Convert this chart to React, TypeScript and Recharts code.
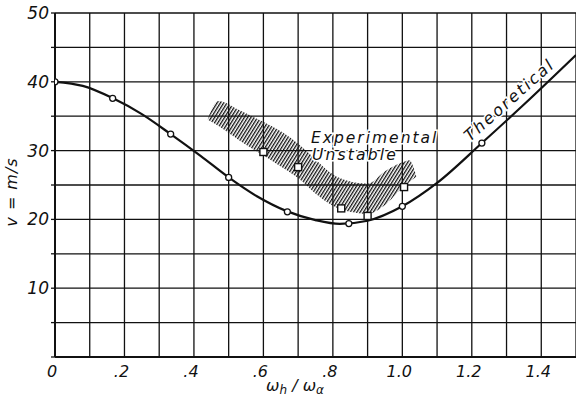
import React from 'react';
import {
  ComposedChart,
  Line,
  Area,
  Scatter,
  XAxis,
  YAxis,
  CartesianGrid,
} from 'recharts';

// theoretical curve
const curveX = [0, 0.08, 0.167, 0.25, 0.333, 0.42, 0.5, 0.58, 0.667, 0.75, 0.82, 0.9, 1.0, 1.1, 1.229, 1.35, 1.5];
const curveV = [40.0, 39.4, 37.6, 35.3, 32.4, 29.2, 26.1, 23.4, 21.2, 19.9, 19.35, 19.8, 21.9, 25.3, 31.1, 36.7, 43.9];

// computed points (open circles)
const circleX = [0, 0.166, 0.333, 0.5, 0.669, 0.846, 1.0, 1.229];
const circleV = [40, 37.6, 32.4, 26.1, 21.1, 19.4, 21.9, 31.1];

// experimental points (open squares)
const squareX = [0.6, 0.7, 0.824, 0.9, 1.005];
const squareV = [29.8, 27.6, 21.6, 20.5, 24.7];

// hatched "experimental unstable" band
const bandX = [0.44, 0.47, 0.53, 0.59, 0.65, 0.7, 0.74, 0.78, 0.82, 0.85, 0.9, 0.95, 1.0, 1.02, 1.04];
const bandLow = [34.5, 33.6, 31.5, 29.6, 27.7, 26.0, 24.2, 22.6, 21.5, 21.1, 20.8, 22.1, 24.6, 25.4, 26.2];
const bandHigh = [34.6, 37.2, 35.9, 34.4, 32.8, 31.0, 29.2, 27.3, 26.0, 25.5, 25.2, 27.0, 28.3, 28.6, 26.3];

const xTicks = [0, 0.1, 0.2, 0.3, 0.4, 0.5, 0.6, 0.7, 0.8, 0.9, 1.0, 1.1, 1.2, 1.3, 1.4, 1.5];
const xLabels: Record<string, string> = {
  '0': '0', '0.2': '.2', '0.4': '.4', '0.6': '.6', '0.8': '.8', '1': '1.0', '1.2': '1.2', '1.4': '1.4',
};
const yTicks = [0, 5, 10, 15, 20, 25, 30, 35, 40, 45, 50];
const yLabels = [10, 20, 30, 40, 50];

const curve = curveX.map((x, i) => ({ x, v: curveV[i] }));
const circles = circleX.map((x, i) => ({ x, v: circleV[i] }));
const squares = squareX.map((x, i) => ({ x, v: squareV[i] }));
const band = bandX.map((x, i) => ({ x, range: [bandLow[i], bandHigh[i]] }));

const FONT = '"DejaVu Sans", sans-serif';

const XTick = (props: any) => {
  const { x, y, payload } = props;
  const key = String(Math.round(payload.value * 10) / 10);
  const label = xLabels[key];
  if (!label) return null;
  return (
    <text x={x - 3} y={y + 20} textAnchor="middle" fontFamily={FONT} fontStyle="italic" fontSize={16} fill="#111">
      {label}
    </text>
  );
};

const YTick = (props: any) => {
  const { x, y, payload } = props;
  if (!yLabels.includes(payload.value)) return null;
  return (
    <text x={x} y={y + 6} textAnchor="end" fontFamily={FONT} fontStyle="italic" fontSize={17} fill="#111">
      {payload.value}
    </text>
  );
};

const OpenCircle = (props: any) => (
  <circle cx={props.cx} cy={props.cy} r={3} fill="#fff" stroke="#111" strokeWidth={1.3} />
);

const OpenSquare = (props: any) => (
  <rect x={props.cx - 3.5} y={props.cy - 3.5} width={7} height={7} fill="#fff" stroke="#111" strokeWidth={1.4} />
);

const txt = {
  fontFamily: FONT,
  fontStyle: 'italic' as const,
  fill: '#111',
  stroke: '#fff',
  strokeWidth: 3,
  paintOrder: 'stroke' as const,
};

export default function App() {
  return (
    <div style={{ position: 'absolute', left: 0, top: 0, width: 576, height: 400, background: '#fff' }}>
      <ComposedChart width={576} height={400} margin={{ top: 13, right: 0, left: 0, bottom: 0 }}>
        <defs>
          <pattern id="hatch" width="2.8" height="6" patternUnits="userSpaceOnUse" patternTransform="rotate(32)">
            <rect x="0" y="0" width="1.3" height="6" fill="#111" />
          </pattern>
        </defs>
        <CartesianGrid stroke="#111" strokeWidth={1.3} />
        <XAxis
          type="number"
          dataKey="x"
          domain={[0, 1.5]}
          ticks={xTicks}
          interval={0}
          height={43}
          tickLine={false}
          tickSize={0}
          tickMargin={0}
          axisLine={{ stroke: '#111', strokeWidth: 2 }}
          tick={<XTick />}
          allowDataOverflow
        />
        <YAxis
          type="number"
          dataKey="v"
          domain={[0, 50]}
          ticks={yTicks}
          interval={0}
          width={55}
          tickSize={4}
          tickMargin={2}
          tickLine={{ stroke: '#111', strokeWidth: 1.3 }}
          axisLine={{ stroke: '#111', strokeWidth: 2 }}
          tick={<YTick />}
        />
        <Area
          data={band}
          dataKey="range"
          type="monotone"
          stroke="none"
          fill="url(#hatch)"
          fillOpacity={1}
          isAnimationActive={false}
        />
        <Line
          data={curve}
          dataKey="v"
          type="monotone"
          stroke="#111"
          strokeWidth={2.2}
          dot={false}
          activeDot={false}
          isAnimationActive={false}
        />
        <Scatter data={circles} dataKey="v" shape={<OpenCircle />} isAnimationActive={false} />
        <Scatter data={squares} dataKey="v" shape={<OpenSquare />} isAnimationActive={false} />
      </ComposedChart>
      <svg width={576} height={400} style={{ position: 'absolute', left: 0, top: 0, pointerEvents: 'none' }}>
        <text x={311} y={143} fontSize={15.5} letterSpacing={2} {...txt}>Experimental</text>
        <text x={312} y={160} fontSize={15.5} letterSpacing={2.2} {...txt}>Unstable</text>
        <text x={470} y={142} fontSize={16} letterSpacing={2.3} transform="rotate(-41.5 470 142)" {...txt}>
          Theoretical
        </text>
        <text x={17} y={192} fontSize={16} letterSpacing={1} textAnchor="middle" transform="rotate(-90 17 192)" {...txt}>
          v = m/s
        </text>
        <text x={295} y={391} fontSize={16} textAnchor="middle" {...txt}>
          <tspan>ω</tspan>
          <tspan dy={3} fontSize={12}>h</tspan>
          <tspan dy={-3}> / ω</tspan>
          <tspan dy={3} fontSize={12}>α</tspan>
        </text>
      </svg>
    </div>
  );
}
